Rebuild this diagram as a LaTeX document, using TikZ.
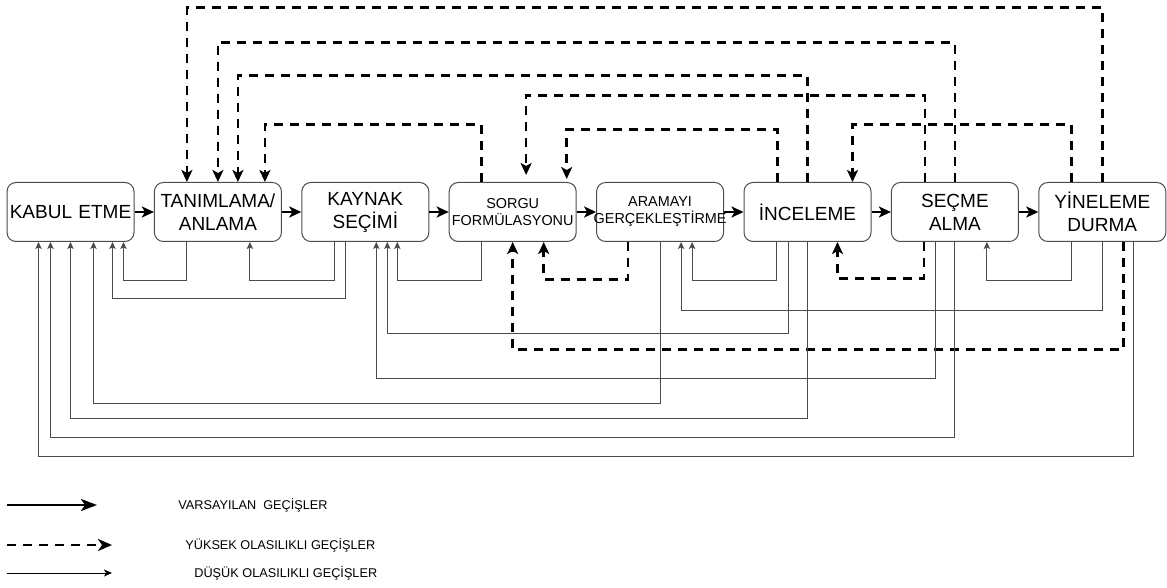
\documentclass[tikz,border=0pt]{standalone}
\usepackage{fontspec}
\setmainfont{Liberation Sans}
\usetikzlibrary{positioning,arrows.meta}

\begin{document}
\begin{tikzpicture}[x=0.5pt,y=-0.5pt,
    box/.style={draw=black!70, line width=0.5pt, rounded corners=4.5pt,
      text width=63.5pt, minimum height=29.5pt, inner sep=0pt,
      align=center, font=\fontsize{9.5}{11.5}\selectfont},
    kucuk/.style={font=\fontsize{7.2}{8.5}\selectfont},
    varsay/.style={line width=1.2pt, -{Stealth[length=6pt,width=5.5pt,inset=1.5pt]}},
    yuksek/.style={line width=1.3pt, dash pattern=on 4.5pt off 3.5pt,
      -{Stealth[length=6pt,width=5.5pt,inset=1.5pt]}},
    dusuk/.style={line width=0.5pt, draw=black!70,
      -{Stealth[length=3.5pt,width=3.2pt,inset=0.8pt]}},
    legend/.style={anchor=west, inner sep=0pt, font=\fontsize{6.35}{7.5}\selectfont}]
  \useasboundingbox (0,0) rectangle (1167,588);

  % the eight steps
  \node[box] (kab) at (70.5,212) {KABUL ETME};
  \node[box, right=9.7pt of kab] (tan) {TANIMLAMA/\\ANLAMA};
  \node[box, right=9.7pt of tan] (kay) {KAYNAK\\SEÇİMİ};
  \node[box, kucuk, right=9.7pt of kay] (sor) {SORGU\\\makebox[\linewidth]{FORMÜLASYONU}};
  \node[box, kucuk, right=9.7pt of sor] (ara) {ARAMAYI\\\makebox[\linewidth]{GERÇEKLEŞTİRME}};
  \node[box, right=9.7pt of ara] (inc) {İNCELEME};
  \node[box, right=9.7pt of inc] (sec) {SEÇME\\ALMA};
  \node[box, right=9.7pt of sec] (yin) {YİNELEME\\DURMA};

  % default transitions
  \draw[varsay] (kab) -- (tan);
  \draw[varsay] (tan) -- (kay);
  \draw[varsay] (kay) -- (sor);
  \draw[varsay] (sor) -- (ara);
  \draw[varsay] (ara) -- (inc);
  \draw[varsay] (inc) -- (sec);
  \draw[varsay] (sec) -- (yin);

  % high probability, above
  \draw[yuksek] (yin.north) -- ++(0,-174.5) -| ([xshift=-15.5pt]tan.north);
  \draw[yuksek] (sec.north) -- ++(0,-139.5) -| (tan.north);
  \draw[yuksek] (inc.north) -- ++(0,-106.5) -| ([xshift=10pt]tan.north);
  \draw[yuksek] ([xshift=-15.5pt]sor.north) -- ++(0,-57.5) -| ([xshift=23.5pt]tan.north);
  \draw[yuksek, shorten >=3.5pt] ([xshift=-15pt]sec.north) -- ++(0,-86.5) -| ([xshift=6.7pt]sor.north);
  \draw[yuksek, shorten >=1.5pt] ([xshift=-15pt]inc.north) -- ++(0,-52.5) -| ([xshift=27pt]sor.north);
  \draw[yuksek] ([xshift=-15.5pt]yin.north) -- ++(0,-57.5) -| ([xshift=22.5pt]inc.north);

  % high probability, below
  \draw[yuksek] ([xshift=-16pt]ara.south) -- ++(0,37.5) -| ([xshift=15.5pt]sor.south);
  \draw[yuksek] ([xshift=-15.5pt]sec.south) -- ++(0,36.5) -| ([xshift=15pt]inc.south);
  \draw[yuksek] ([xshift=10.5pt]yin.south) -- ++(0,107.5) -| (sor.south);

  % low probability
  \draw[dusuk] ([xshift=-15.5pt]tan.south) -- ++(0,38.5) -| ([xshift=26.5pt]kab.south);
  \draw[dusuk] ([xshift=-15.5pt]kay.south) -- ++(0,38.5) -| ([xshift=16pt]tan.south);
  \draw[dusuk] ([xshift=-10pt]kay.south) -- ++(0,56.5) -| ([xshift=21pt]kab.south);
  \draw[dusuk] ([xshift=-15.5pt]sor.south) -- ++(0,38.5) -| ([xshift=16pt]kay.south);
  \draw[dusuk] ([xshift=-15.5pt]inc.south) -- ++(0,38.5) -| ([xshift=16pt]ara.south);
  \draw[dusuk] ([xshift=-15.5pt]yin.south) -- ++(0,38.5) -| ([xshift=16pt]sec.south);
  \draw[dusuk] (yin.south) -- ++(0,68.5) -| ([xshift=10.5pt]ara.south);
  \draw[dusuk] ([xshift=-9.5pt]inc.south) -- ++(0,91.5) -| ([xshift=11pt]kay.south);
  \draw[dusuk] ([xshift=-9.5pt]sec.south) -- ++(0,136.5) -| ([xshift=5.5pt]kay.south);
  \draw[dusuk] (ara.south) -- ++(0,161.5) -| ([xshift=11.5pt]kab.south);
  \draw[dusuk] (inc.south) -- ++(0,176.5) -| (kab.south);
  \draw[dusuk] (sec.south) -- ++(0,195.5) -| ([xshift=-10pt]kab.south);
  \draw[dusuk] ([xshift=15.5pt]yin.south) -- ++(0,214.5) -| ([xshift=-16pt]kab.south);

  % legend
  \coordinate (v1) at (7,505);
  \coordinate (v2) at (97,505);
  \coordinate (y1) at (7,545);
  \coordinate (y2) at (112,545);
  \coordinate (d1) at (7,573);
  \coordinate (d2) at (112,573);
  \draw[varsay, -{Stealth[length=8pt,width=6pt,inset=2pt]}] (v1) -- (v2);
  \draw[yuksek, -{Stealth[length=7pt,width=6pt,inset=2pt]}] (y1) -- (y2);
  \draw[dusuk, draw=black, -{Stealth[length=4pt,width=3.5pt,inset=1pt]}] (d1) -- (d2);
  \node[legend] (lv) at (178,505) {VARSAYILAN\ \ GEÇİŞLER};
  \node[legend] (ly) at (185,545) {YÜKSEK OLASILIKLI GEÇİŞLER};
  \node[legend] (ld) at (194,573) {DÜŞÜK OLASILIKLI GEÇİŞLER};
\end{tikzpicture}
\end{document}
